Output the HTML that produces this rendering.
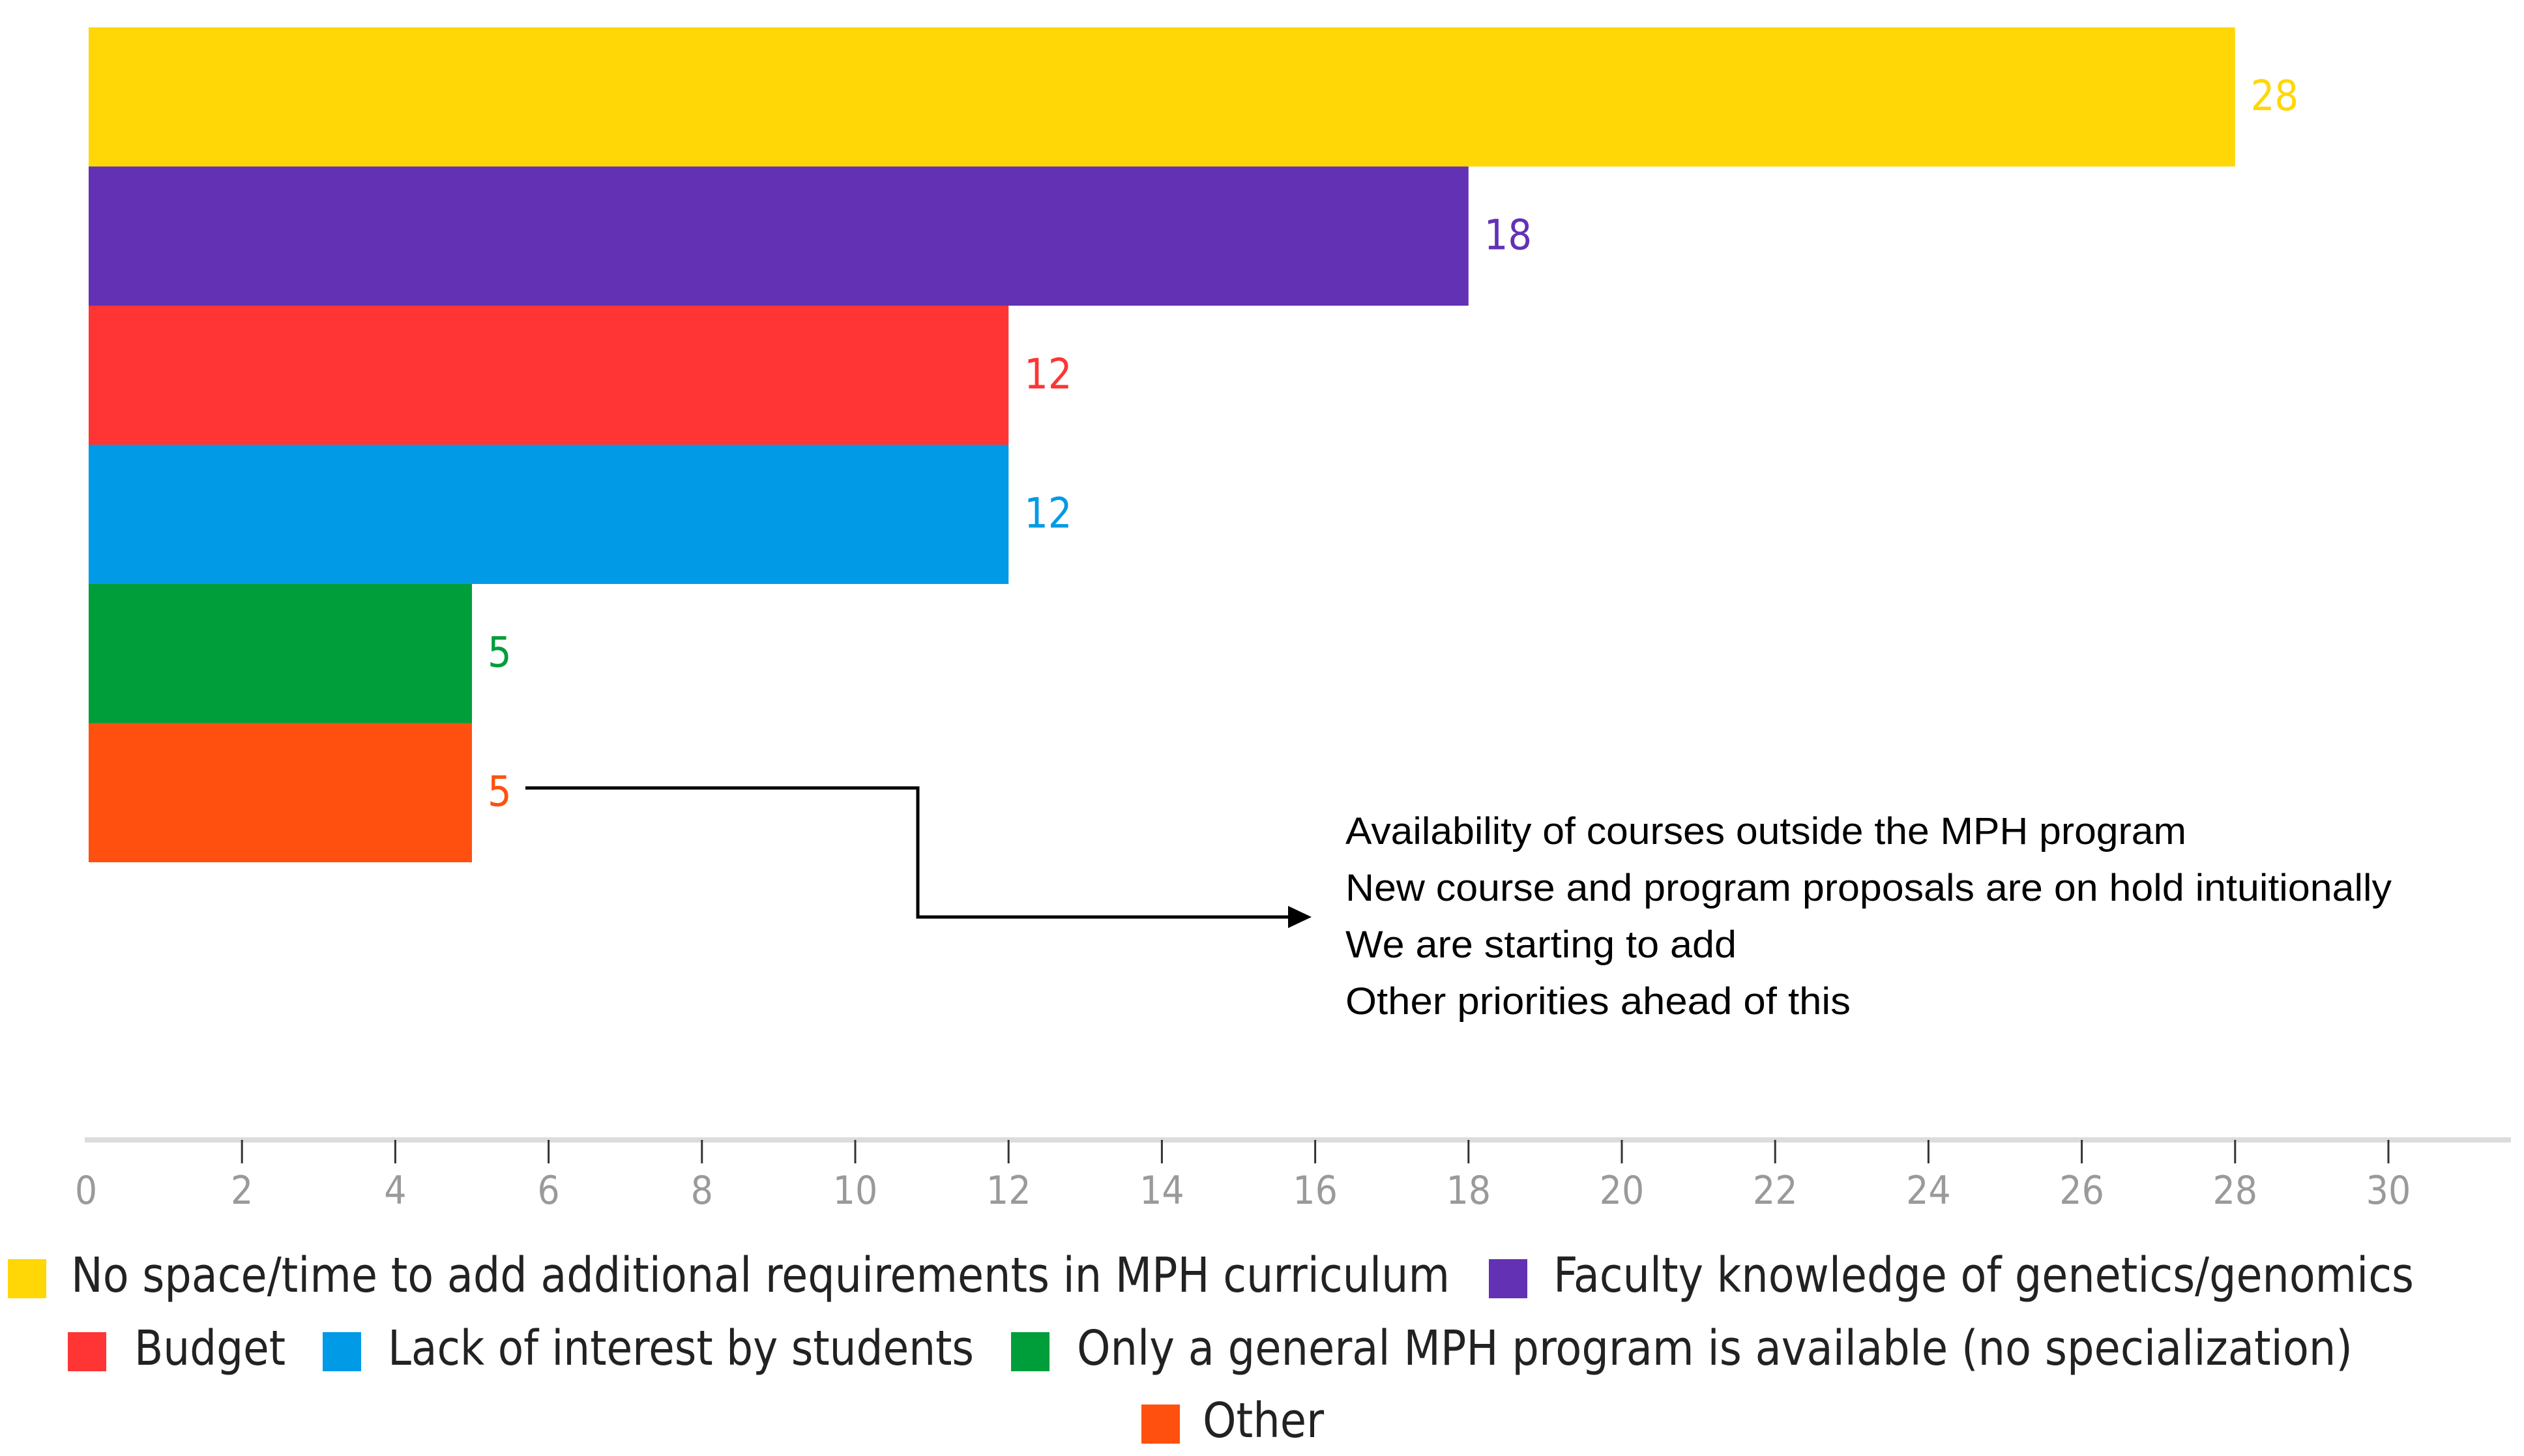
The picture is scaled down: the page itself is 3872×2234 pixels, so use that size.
<!DOCTYPE html>
<html><head><meta charset="utf-8">
<style>
html,body{margin:0;padding:0;background:#fff;}
svg{display:block;}
</style></head>
<body>
<svg id="chart" width="3872" height="2234" viewBox="0 0 3872 2234" xmlns="http://www.w3.org/2000/svg">
<g id="bars"></g>
<g id="axis"></g>
<g id="annotation"></g>
<g id="legend"></g>
</svg>
<script>
const categories = ["No space/time to add additional requirements in MPH curriculum","Faculty knowledge of genetics/genomics","Budget","Lack of interest by students","Only a general MPH program is available (no specialization)","Other"];
const values = [28, 18, 12, 12, 5, 5];
const colors = ["#FFD706","#6331B4","#FF3535","#009AE6","#009E3A","#FF5010"];
const tickValues = [0,2,4,6,8,10,12,14,16,18,20,22,24,26,28,30];
const otherNotes = ["Availability of courses outside the MPH program","New course and program proposals are on hold intuitionally","We are starting to add","Other priorities ahead of this"];

const NS = "http://www.w3.org/2000/svg";
const x0 = 136, unit = 117.6;
function xScale(v){ return x0 + v*unit; }
const barTop = 42, barH = 213.5;
function yScale(i){ return barTop + i*barH; }
function mk(tag, attrs, parent){ const e=document.createElementNS(NS,tag); for(const k in attrs) e.setAttribute(k,attrs[k]); parent.appendChild(e); return e; }

const gb = document.getElementById('bars');
values.forEach((v,i)=>{
  const r = mk('rect',{x:x0,y:yScale(i),width:xScale(v)-x0,height:barH,fill:colors[i]},gb);
  
  
  const t = mk('text',{x:xScale(v)+24,y:yScale(i)+barH/2+20,fill:colors[i],'font-family':'"DejaVu Sans Condensed","Liberation Sans",sans-serif','font-size':64},gb);
  t.textContent = v;
  
  
});

const ga = document.getElementById('axis');
const axl = mk('rect',{x:130,y:1745,width:3722,height:8,fill:'#dcdcdc'},ga);


tickValues.forEach(v=>{
  if(v>0){
    const l = mk('line',{x1:xScale(v),x2:xScale(v),y1:1749,y2:1785,stroke:'#333','stroke-width':3},ga);
    
    
  }
  const t = mk('text',{x:xScale(v)-(v===0?4:0),y:1847,'text-anchor':'middle',fill:'#9a9a9a','font-family':'"DejaVu Sans Condensed","Liberation Sans",sans-serif','font-size':60},ga);
  t.textContent = v;
  
  
});

const gn = document.getElementById('annotation');
const pl = mk('polyline',{points:'806,1209 1408,1209 1408,1407 1988,1407',fill:'none',stroke:'#000','stroke-width':5},gn);


const ar = mk('polygon',{points:'2012,1407 1976,1390 1976,1424',fill:'#000'},gn);


const noteW = [1290,1605,600,775];
otherNotes.forEach((s,i)=>{
  const t = mk('text',{x:2064,y:1295+i*87,fill:'#000','font-family':'"Liberation Sans Narrow","Liberation Sans",sans-serif','font-size':58,textLength:noteW[i],lengthAdjust:'spacingAndGlyphs'},gn);
  t.textContent = s;
  
  
});

const gl = document.getElementById('legend');
const leg = [
  {sx:12,  tx:109,  tw:2115, y:1962},
  {sx:2284,tx:2383, tw:1320, y:1962},
  {sx:104, tx:206,  tw:232,  y:2074},
  {sx:495, tx:595,  tw:899,  y:2074},
  {sx:1551,tx:1652, tw:1957, y:2074},
  {sx:1751,tx:1845, tw:186,  y:2185}
];
categories.forEach((c,i)=>{
  const L = leg[i];
  const g = mk('g',{},gl);
  
  
  mk('rect',{x:L.sx,y:L.y-30,width:59,height:60,fill:colors[i]},g);
  const t = mk('text',{x:L.tx,y:L.y+20,fill:'#222','font-family':'"DejaVu Sans Condensed","Liberation Sans",sans-serif','font-size':74,textLength:L.tw,lengthAdjust:'spacingAndGlyphs'},g);
  t.textContent = c;
});
</script>
</body></html>
